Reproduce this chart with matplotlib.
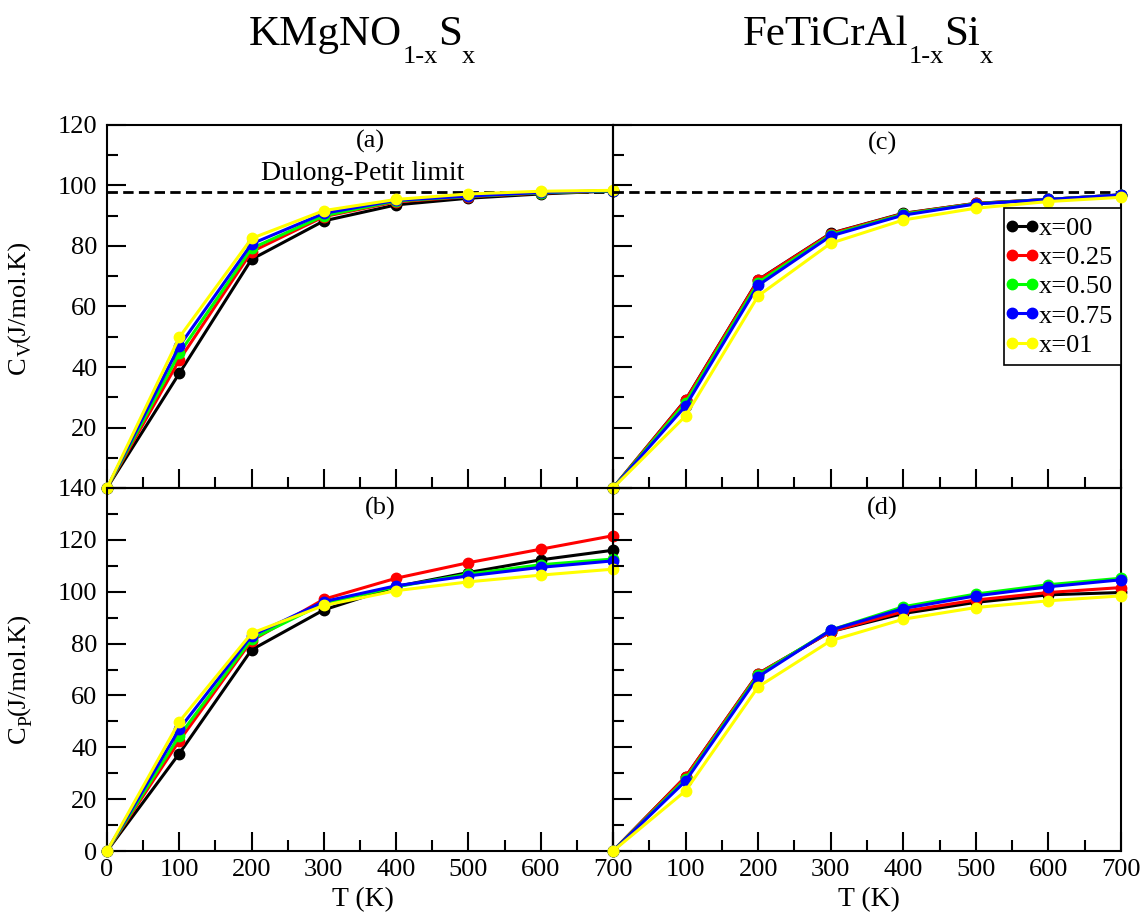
import numpy as np
import matplotlib
matplotlib.use("Agg")
import matplotlib.pyplot as plt
from matplotlib.ticker import MultipleLocator
from matplotlib.legend_handler import HandlerLine2D
from matplotlib.lines import Line2D

plt.rcParams["font.family"] = ["Liberation Serif", "DejaVu Serif"]
plt.rcParams["lines.scale_dashes"] = False

T = [0, 100, 200, 300, 400, 500, 600, 700]
labels = ["x=00", "x=0.25", "x=0.50", "x=0.75", "x=01"]
colors = ["#000000", "#ff0000", "#00ff00", "#0000ff", "#ffff00"]

# (a) Cv KMgNO1-xSx
cv_kmgno = [
    [0, 37.9, 75.6, 88.3, 93.6, 95.8, 97.2, 98.2],
    [0, 42.3, 78.1, 89.7, 94.6, 96.3, 97.5, 98.2],
    [0, 44.5, 79.2, 90.0, 94.9, 96.4, 97.6, 98.2],
    [0, 46.9, 80.7, 90.8, 95.1, 96.5, 97.7, 98.3],
    [0, 49.8, 82.5, 91.7, 95.4, 97.2, 98.1, 98.4],
]
# (b) Cp KMgNO1-xSx
cp_kmgno = [
    [0, 37.6, 77.6, 93.0, 102.0, 107.4, 112.3, 116.0],
    [0, 42.5, 81.1, 97.1, 105.2, 111.2, 116.4, 121.6],
    [0, 44.4, 81.7, 95.5, 101.9, 106.8, 110.4, 112.6],
    [0, 47.0, 83.0, 96.2, 102.3, 106.1, 109.4, 111.9],
    [0, 49.9, 84.0, 94.7, 100.4, 103.8, 106.4, 108.7],
]
# (c) Cv FeTiCrAl1-xSix
cv_feticral = [
    [0, 29.1, 68.8, 84.2, 90.8, 94.1, 95.4, 96.9],
    [0, 29.0, 68.7, 84.1, 90.7, 94.1, 95.4, 96.9],
    [0, 28.2, 67.9, 83.7, 90.5, 94.0, 95.4, 96.9],
    [0, 27.1, 67.0, 83.3, 90.2, 93.9, 95.4, 96.9],
    [0, 23.8, 63.5, 80.9, 88.6, 92.5, 94.7, 96.1],
]
# (d) Cp FeTiCrAl1-xSix
cp_feticral = [
    [0, 28.6, 68.4, 84.6, 91.6, 95.9, 98.8, 99.7],
    [0, 28.6, 68.4, 84.6, 92.4, 96.8, 99.7, 101.6],
    [0, 27.7, 67.9, 85.2, 94.2, 99.1, 102.7, 105.2],
    [0, 27.0, 67.2, 85.2, 93.5, 98.4, 101.9, 104.6],
    [0, 23.2, 63.3, 81.1, 89.4, 93.9, 96.5, 98.4],
]
dulong_petit = 98.0

FS = 19
W, H = 1145, 915

fig = plt.figure(figsize=(W / 100, H / 100), dpi=100)
renderer = fig.canvas.get_renderer()


def make_axes(x0, x1, y0, y1):
    # pixel box -> figure fraction
    ax = fig.add_axes([x0 / W, 1 - y1 / H, (x1 - x0) / W, (y1 - y0) / H])
    ax.set_facecolor("none")
    for s in ax.spines.values():
        s.set_linewidth(1.5)
    ax.tick_params(which="both", direction="in", top=False, right=False,
                   labelsize=FS, width=1.5)
    ax.tick_params(which="major", length=14, pad=6)
    ax.tick_params(which="minor", length=8)
    ax.set_xlim(0, 700)
    ax.xaxis.set_major_locator(MultipleLocator(100))
    ax.xaxis.set_minor_locator(MultipleLocator(50))
    ax.yaxis.set_major_locator(MultipleLocator(20))
    ax.yaxis.set_minor_locator(MultipleLocator(10))
    return ax


ax_a = make_axes(107, 613, 125, 488)
ax_c = make_axes(613, 1121, 125, 488)
ax_b = make_axes(107, 613, 488, 851)
ax_d = make_axes(613, 1121, 488, 851)

for ax in (ax_a, ax_c):
    ax.set_ylim(0, 120)
for ax in (ax_b, ax_d):
    ax.set_ylim(0, 140)


def draw_series(ax, data, zorder=3):
    for ys, c, lab in zip(data, colors, labels):
        ax.plot(T, ys, color=c, lw=2.2, marker="o", ms=7.5, mec=c,
                label=lab, clip_on=False, zorder=zorder)


for ax in (ax_a, ax_c):
    ax.plot([0, 700], [dulong_petit, dulong_petit], color="black", lw=2,
            dashes=(7.5, 3.8), zorder=2)

draw_series(ax_a, cv_kmgno)
draw_series(ax_b, cp_kmgno)
draw_series(ax_c, cv_feticral)
draw_series(ax_d, cp_feticral)

# tick labels
ax_a.set_xticklabels([])
ax_c.set_xticklabels([])
ax_c.set_yticklabels([])
ax_d.set_yticklabels([])
ax_a.set_yticks(range(0, 121, 20))
ax_a.set_yticklabels([""] + [str(v) for v in range(20, 121, 20)])
ax_d.set_xticks(T)
ax_d.set_xticklabels([""] + [str(v) for v in T[1:]])
for ax in (ax_a, ax_b):
    ax.tick_params(axis="y", pad=7)

# panel labels
ax_a.text(365, 114.4, "(a)", fontsize=FS, ha="center", va="center")
ax_b.text(378, 132, "(b)", fontsize=FS, ha="center", va="center")
ax_c.text(372, 114, "(c)", fontsize=FS, ha="center", va="center")
ax_d.text(371, 132, "(d)", fontsize=FS, ha="center", va="center")
ax_a.text(354, 104.1, "Dulong-Petit limit", fontsize=FS + 1, ha="center",
          va="center")

leg = ax_c.legend(loc="upper right", bbox_to_anchor=(1.0, 0.77),
                  fontsize=FS, frameon=True, fancybox=False, numpoints=2,
                  handler_map={Line2D: HandlerLine2D(marker_pad=0.0)},
                  handlelength=0.78, handletextpad=0.25, labelspacing=0.22,
                  borderpad=0.3, borderaxespad=0.0)
leg.get_frame().set_edgecolor("black")
leg.get_frame().set_linewidth(1.2)
leg.get_frame().set_alpha(1)


def rich_text(cx, cy, parts, rotation=0):
    """Place text pieces (string, size, drop_px) one after another,
    centred on (cx, cy) in pixels from the top-left corner."""
    objs = []
    widths = []
    for s, size, drop in parts:
        t = fig.text(0, 0, s, fontsize=size, ha="left", va="baseline",
                     rotation=rotation, rotation_mode="anchor")
        bb = t.get_window_extent(renderer)
        widths.append(bb.height if rotation else bb.width)
        objs.append((t, drop))
    total = sum(widths)
    pos = -total / 2
    for (t, drop), w in zip(objs, widths):
        if rotation:
            x, y = cx + drop, (H - cy) + pos
        else:
            x, y = cx + pos, (H - cy) - drop
        t.set_position((x / W, y / H))
        pos += w


# titles and axis labels
rich_text(362, 45, [("KMgNO", 31, 0), ("1-x", 19, 18), ("S", 31, 0), ("x", 19, 18)])
rich_text(868, 45, [("FeTiCrAl", 31, 0), ("1-x", 19, 18), ("Si", 31, 0), ("x", 19, 18)])
rich_text(25, 307, [("C", FS, 0), ("V", 14, 6), ("(J/mol.K)", FS, 0)], rotation=90)
rich_text(25, 678, [("C", FS, 0), ("P", 14, 6), ("(J/mol.K)", FS, 0)], rotation=90)
fig.text(363 / W, 1 - 906 / H, "T (K)", fontsize=FS + 1, ha="center",
         va="baseline")
fig.text(869 / W, 1 - 906 / H, "T (K)", fontsize=FS + 1, ha="center",
         va="baseline")

fig.savefig("out.png", dpi=100)
